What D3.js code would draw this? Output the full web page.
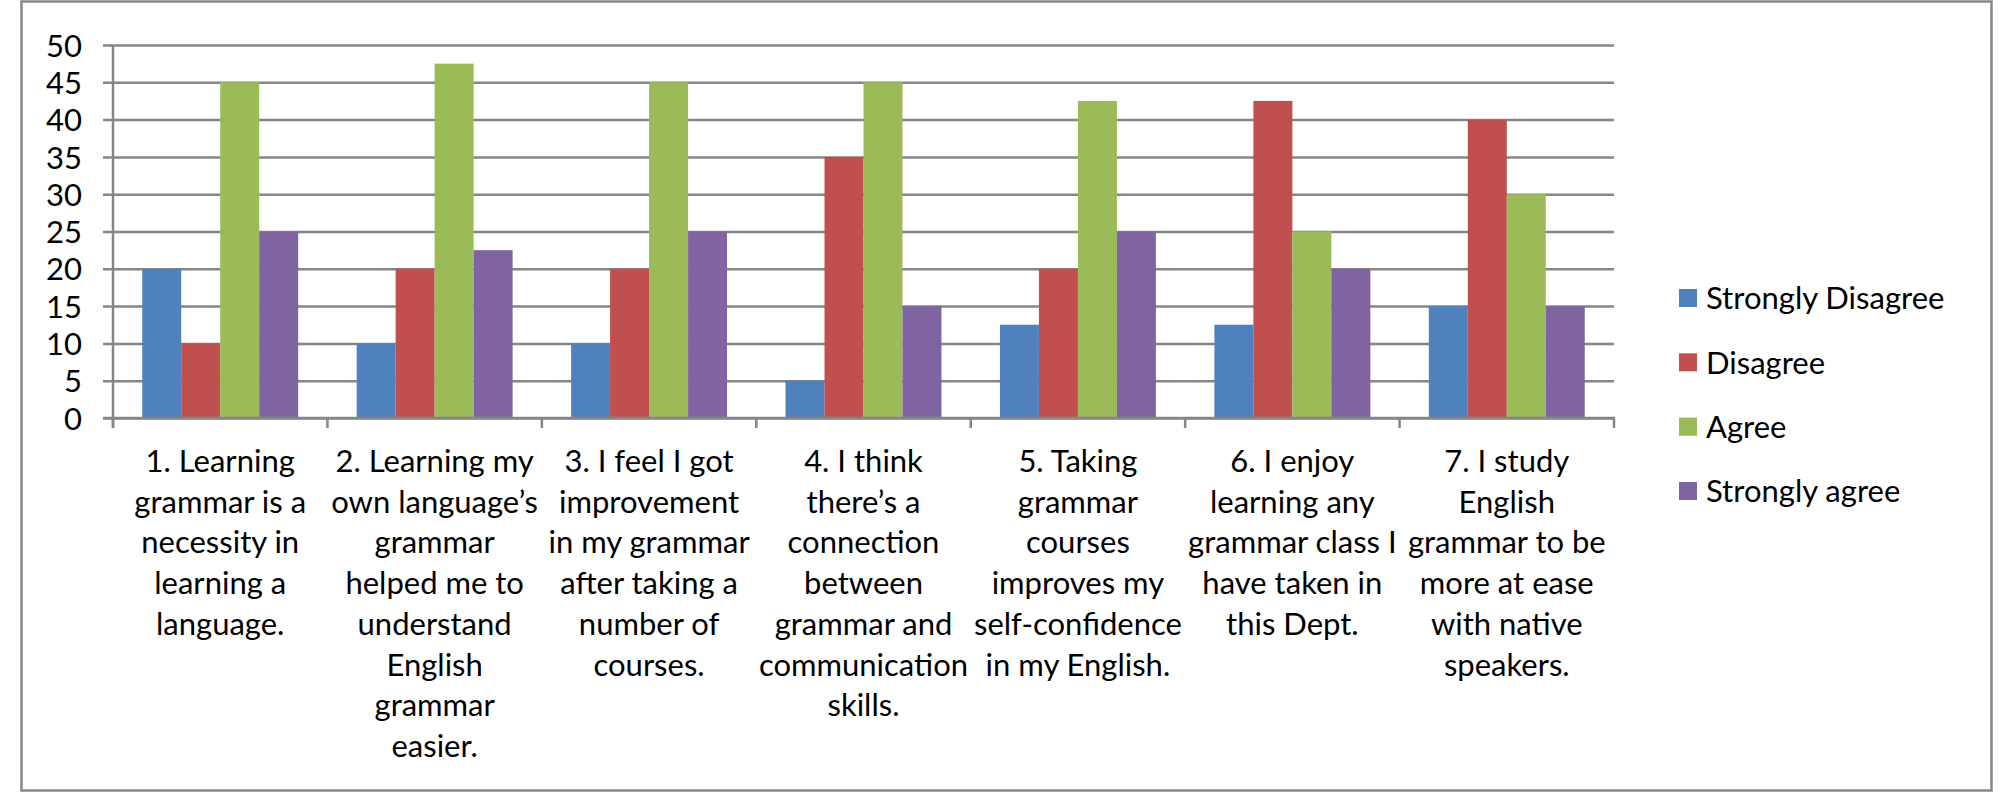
<!DOCTYPE html>
<html>
<head>
<meta charset="utf-8">
<script src="https://cdn.jsdelivr.net/npm/d3@7/dist/d3.min.js"></script>
<style>
  html, body { margin: 0; padding: 0; background: #fff; }
  svg { display: block; }
  text { font-family: Lato, "Open Sans", sans-serif; fill: #000; }
</style>
</head>
<body>
<svg id="chart" width="2005" height="795"></svg>
<script>
// ---- data ----
const categories = [
  ["1. Learning", "grammar is a", "necessity in", "learning a", "language."],
  ["2. Learning my", "own language’s", "grammar", "helped me to", "understand", "English", "grammar", "easier."],
  ["3. I feel I got", "improvement", "in my grammar", "after taking a", "number of", "courses."],
  ["4. I think", "there’s a", "connection", "between", "grammar and", "communication", "skills."],
  ["5. Taking", "grammar", "courses", "improves my", "self-confidence", "in my English."],
  ["6. I enjoy", "learning any", "grammar class I", "have taken in", "this Dept."],
  ["7. I study", "English", "grammar to be", "more at ease", "with native", "speakers."]
];
const seriesNames = ["Strongly Disagree", "Disagree", "Agree", "Strongly agree"];
const stronglyDisagree = [20, 10, 10, 5, 12.5, 12.5, 15];
const disagree         = [10, 20, 20, 35, 20, 42.5, 40];
const agree            = [45, 47.5, 45, 45, 42.5, 25, 30];
const stronglyAgree    = [25, 22.5, 25, 15, 25, 20, 15];
const yTicks = [0, 5, 10, 15, 20, 25, 30, 35, 40, 45, 50];
const seriesColors = ["#4F81BD", "#C0504D", "#9BBB59", "#8064A2"];

const seriesValues = [stronglyDisagree, disagree, agree, stronglyAgree];

// ---- layout ----
const svg = d3.select("#chart");
const plot = { left: 113, right: 1614, top: 45, bottom: 418 };
const gridColor = "#868686";
const fontSize = 31;

// outer frame
svg.append("rect")
  .attr("x", 21.5).attr("y", 1.5)
  .attr("width", 1970).attr("height", 789)
  .attr("fill", "#fff").attr("stroke", gridColor).attr("stroke-width", 2.5);

const x0 = d3.scaleBand()
  .domain(d3.range(categories.length))
  .range([plot.left, plot.right])
  .paddingInner(0).paddingOuter(0);

// gap width 150% => bars occupy 4/5.5 of the category
const groupFrac = 4 / 5.5;
const x1 = d3.scaleBand()
  .domain(d3.range(seriesNames.length))
  .range([0, x0.bandwidth() * groupFrac]);
const groupOffset = x0.bandwidth() * (1 - groupFrac) / 2;

const y = d3.scaleLinear().domain([0, 50]).range([plot.bottom, plot.top]);

// gridlines + y ticks
const yAxis = d3.axisLeft(y)
  .tickValues(yTicks)
  .tickSize(-(plot.right - plot.left))
  .tickSizeOuter(0)
  .tickPadding(0)
  .tickFormat(d3.format("d"));
const gy = svg.append("g").attr("transform", `translate(${plot.left},0)`).call(yAxis);
gy.select(".domain").remove();
gy.selectAll(".tick line")
  .attr("x1", -10)
  .attr("stroke", gridColor).attr("stroke-width", 2.5);
gy.selectAll(".tick text")
  .attr("x", -31)
  .attr("dy", "0.36em")
  .style("font-size", fontSize + "px")
  .style("font-family", "Lato, sans-serif")
  .attr("fill", "#000");

// vertical axis line
svg.append("line")
  .attr("x1", plot.left).attr("x2", plot.left)
  .attr("y1", plot.top).attr("y2", plot.bottom + 10)
  .attr("stroke", gridColor).attr("stroke-width", 2.5);

// bars
const groups = svg.append("g").selectAll("g")
  .data(categories.map((c, i) => i))
  .join("g")
  .attr("transform", i => `translate(${x0(i) + groupOffset},0)`);

groups.selectAll("rect")
  .data(i => seriesValues.map((vals, s) => ({ s, v: vals[i] })))
  .join("rect")
  .attr("x", d => x1(d.s))
  .attr("width", x1.bandwidth())
  .attr("y", d => y(d.v))
  .attr("height", d => y(0) - y(d.v))
  .attr("fill", d => seriesColors[d.s]);

// x axis line + ticks
const xBoundaries = d3.range(categories.length + 1).map(i =>
  i < categories.length ? x0(i) : x0(categories.length - 1) + x0.bandwidth());
svg.append("line")
  .attr("x1", plot.left - 10).attr("x2", plot.right + 1)
  .attr("y1", y(0)).attr("y2", y(0))
  .attr("stroke", gridColor).attr("stroke-width", 2.5);
svg.append("g").selectAll("line")
  .data(xBoundaries)
  .join("line")
  .attr("x1", d => d).attr("x2", d => d)
  .attr("y1", y(0)).attr("y2", y(0) + 10)
  .attr("stroke", gridColor).attr("stroke-width", 2.5);

// category labels
const lineGap = 40.7;
const firstBaseline = 472;
const labels = svg.append("g").selectAll("text")
  .data(categories.map((lines, i) => ({ lines, i })))
  .join("text")
  .attr("text-anchor", "middle")
  .style("font-size", fontSize + "px");
labels.selectAll("tspan")
  .data(d => d.lines.map((t, k) => ({ t, k, i: d.i })))
  .join("tspan")
  .attr("x", d => x0(d.i) + x0.bandwidth() / 2)
  .attr("y", d => firstBaseline + d.k * lineGap)
  .text(d => d.t);

// legend
const legendRowY = d3.scalePoint().domain(d3.range(seriesNames.length)).range([298, 491]);
const leg = svg.append("g").selectAll("g")
  .data(seriesNames.map((n, s) => ({ n, s })))
  .join("g")
  .attr("transform", d => `translate(1679,${legendRowY(d.s)})`);
leg.append("rect")
  .attr("x", 0).attr("y", -9).attr("width", 18).attr("height", 18)
  .attr("fill", d => seriesColors[d.s]);
leg.append("text")
  .attr("x", 27).attr("y", 0).attr("dy", "0.36em")
  .style("font-size", fontSize + "px")
  .text(d => d.n);
</script>
</body>
</html>
